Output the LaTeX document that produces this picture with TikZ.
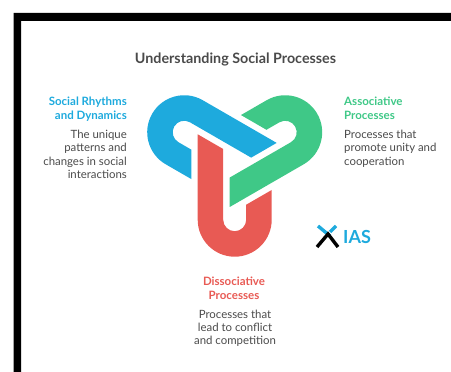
\documentclass[tikz,border=0pt]{standalone}
\usepackage{fontspec}
\setmainfont{Lato}
\definecolor{redproc}{HTML}{E85A54}
\definecolor{blueproc}{HTML}{1EAADD}
\definecolor{greenproc}{HTML}{3FC887}
\definecolor{inktext}{HTML}{4A4A4A}
\tikzset{
  headlabel/.style={font=\fontsize{11.5}{14}\selectfont\bfseries, align=#1},
  bodylabel/.style={font=\fontsize{11.4}{13.4}\selectfont, text=inktext, align=#1},
}
\begin{document}
\begin{tikzpicture}[x=1pt,y=1pt]
  \useasboundingbox (0,0) rectangle (451,372);
  % frame
  \fill[black] (13.5,0) -- (13.5,359) -- (451,359) -- (451,351) -- (21,351) -- (21,0) -- cycle;
  \node[font=\fontsize{14.3}{16}\selectfont\bfseries, text=inktext] (title) at (235.5,313) {Understanding Social Processes};
  % the three loops
  \begin{scope}[shift={(234.7,210.6)}]
    \foreach \ang/\col in {-120/blueproc,120/greenproc,0/redproc}{
      \fill[\col, rotate=\ang] (-37,27.1) -- (-37,-58.3) arc[start angle=180,end angle=360,radius=37]
        -- (37,-28.6) -- (11.5,-43.3) -- (11.5,-58.3) arc[start angle=0,end angle=-180,radius=11.5]
        -- (-11.5,12.4) -- cycle;
    }
  \end{scope}
  % left
  \node[headlabel=right, text=blueproc, anchor=north east, inner sep=0pt] (rhythmhead) at (127,275.5) {Social Rhythms\\and Dynamics};
  \node[bodylabel=right, anchor=north east, inner sep=0pt] (rhythmbody) at (127,242) {The unique\\patterns and\\changes in social\\interactions};
  % right
  \node[headlabel=left, text=greenproc, anchor=north west, inner sep=0pt] (assochead) at (344,275.5) {Associative\\Processes};
  \node[bodylabel=left, anchor=north west, inner sep=0pt] (assocbody) at (344,242) {Processes that\\promote unity and\\cooperation};
  % bottom
  \node[headlabel=center, text=redproc, anchor=north, inner sep=0pt] (dissochead) at (234,95) {Dissociative\\Processes};
  \node[bodylabel=center, anchor=north, inner sep=0pt] (dissocbody) at (235,62.5) {Processes that\\lead to conflict\\and competition};
  % logo
  \draw[blueproc, line width=3.4pt] (318,146) -- (330,136) (336,146) -- (330,140);
  \draw[black, line width=3.4pt] (317,125) -- (328,138) -- (338,125);
  \node[font=\fontsize{18}{18}\selectfont\bfseries, text=blueproc, anchor=west, inner sep=0pt] (logotext) at (343,135.5) {IAS};
\end{tikzpicture}
\end{document}
